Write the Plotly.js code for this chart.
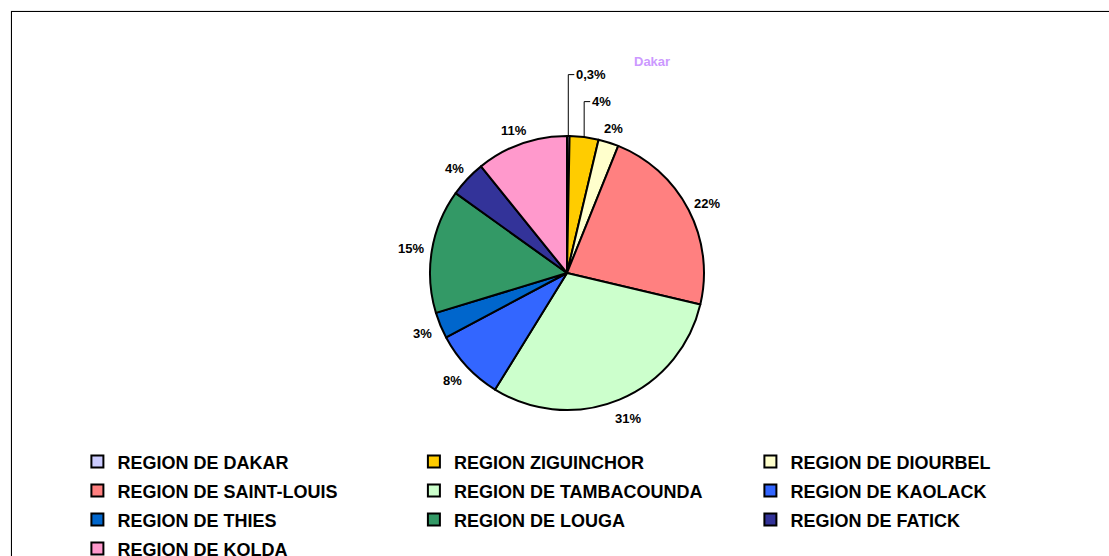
<!DOCTYPE html>
<html>
<head>
<meta charset="utf-8">
<script src="https://cdn.plot.ly/plotly-3.0.1.min.js"></script>
<style>
html,body{margin:0;padding:0;width:1109px;height:556px;overflow:hidden;background:#fff;}
#frame{position:absolute;left:11px;top:11px;width:1200px;height:700px;border:1px solid #000;box-shadow:0 0 1px #888;}
#chart{position:absolute;left:0;top:0;width:1109px;height:620px;}
</style>
</head>
<body>
<div id="frame"></div>
<div id="chart"></div>
<script>
// ---- data ----
const regions = ["REGION DE DAKAR","REGION ZIGUINCHOR","REGION DE DIOURBEL","REGION DE SAINT-LOUIS","REGION DE TAMBACOUNDA","REGION DE KAOLACK","REGION DE THIES","REGION DE LOUGA","REGION DE FATICK","REGION DE KOLDA"];
const shares = [0.3, 3.4, 2.4, 22.6, 30.1, 8.4, 3.1, 14.6, 4.3, 10.8];
const shareLabels = ["0,3%","4%","2%","22%","31%","8%","3%","15%","4%","11%"];
const colors = ["#CCCCFF","#FFCC00","#FFFFCC","#FF8080","#CCFFCC","#3366FF","#0066CC","#339966","#333399","#FF99CC"];
const noteText = "Dakar";

// ---- geometry (layout only) ----
const W = 1109, H = 620;
const CX = 567, CY = 273, R = 137;
const T = CY - R, PH = 2 * R;               // plot area top / height
const B = H - T - PH;
const FONT = "Liberation Sans, Arial, sans-serif";
const toPX = px => px / W;
const toPY = py => (T + PH - py) / PH;

// label placement computed from the data (cumulative angles)
const total = shares.reduce((a, b) => a + b, 0);
const GAP = 8;
const textW = s => 7.2 * (s.match(/[0-9]/g) || []).length + 3.6 * (s.match(/,/g) || []).length + 11.6;
let cum = 0;
const lab = shares.map((v, i) => {
  const mid = (cum + v / 2) / total * 2 * Math.PI; cum += v;
  const s = Math.sin(mid), c = Math.cos(mid);
  const w = textW(shareLabels[i]);
  const halfH = c < 0 ? 10 : 6.5;
  const g = c < 0 ? GAP + 2 : GAP;
  const ax = CX + (R + g) * s, ay = CY - (R + g) * c;
  return {
    i, s, c, w, h: 6.5,
    x: ax + (w / 2) * s, y: ay - halfH * c,
    ex: CX + R * s, ey: CY - R * c, pushed: false
  };
});
const PADX = 14, PADY = 10;
const collide = (a, b) =>
  Math.abs(a.x - b.x) < (a.w + b.w) / 2 + PADX && Math.abs(a.y - b.y) < a.h + b.h + PADY;
for (let i = lab.length - 2; i >= 0; i--) {
  const a = lab[i], b = lab[i + 1];
  if (collide(a, b)) {
    a.pushed = true;
    a.y = b.y - 27;
    a.x = a.ex + 8 + a.w / 2;
  }
}

const annotations = lab.map(l => ({
  text: shareLabels[l.i], xref: "paper", yref: "paper",
  x: toPX(l.x), y: toPY(l.y), xanchor: "center", yanchor: "middle",
  showarrow: false, borderpad: 0,
  font: {family: FONT, size: 13, color: "#000", weight: "bold"}
}));
annotations.push({
  text: noteText, xref: "paper", yref: "paper",
  x: toPX(652), y: toPY(61), xanchor: "center", yanchor: "middle", showarrow: false,
  font: {family: FONT, size: 13, color: "#CC99FF", weight: "bold"}
});
const shapes = lab.filter(l => l.pushed).map(l => ({
  type: "path", xref: "paper", yref: "paper",
  path: `M ${toPX(l.ex)},${toPY(l.ey)} L ${toPX(l.ex)},${toPY(l.y)} L ${toPX(l.ex + 6)},${toPY(l.y)}`,
  line: {color: "#000", width: 1}
}));

const trace = {
  type: "pie",
  labels: regions.map(r => `<span style="font-size:18px">${r}</span>`),
  values: shares,
  text: shareLabels,
  textinfo: "none",
  sort: false,
  direction: "clockwise",
  rotation: 0,
  hoverinfo: "label+text",
  marker: {colors: colors, line: {color: "#000", width: 2}},
  domain: {x: [toPX(CX - 200), toPX(CX + 200)], y: [0, 1]}
};

const layout = {
  width: W, height: H,
  margin: {l: 0, r: 0, t: T, b: B},
  paper_bgcolor: "rgba(0,0,0,0)",
  plot_bgcolor: "rgba(0,0,0,0)",
  showlegend: true,
  legend: {
    orientation: "h",
    x: toPX(77.4), y: toPY(442), xanchor: "left", yanchor: "top",
    entrywidth: 291.5, entrywidthmode: "pixels",
    font: {family: FONT, size: 20, color: "#000", weight: "bold"},
    traceorder: "normal"
  },
  annotations: annotations,
  shapes: shapes
};

Plotly.newPlot("chart", [trace], layout, {displayModeBar: false, staticPlot: true});
</script>
</body>
</html>
